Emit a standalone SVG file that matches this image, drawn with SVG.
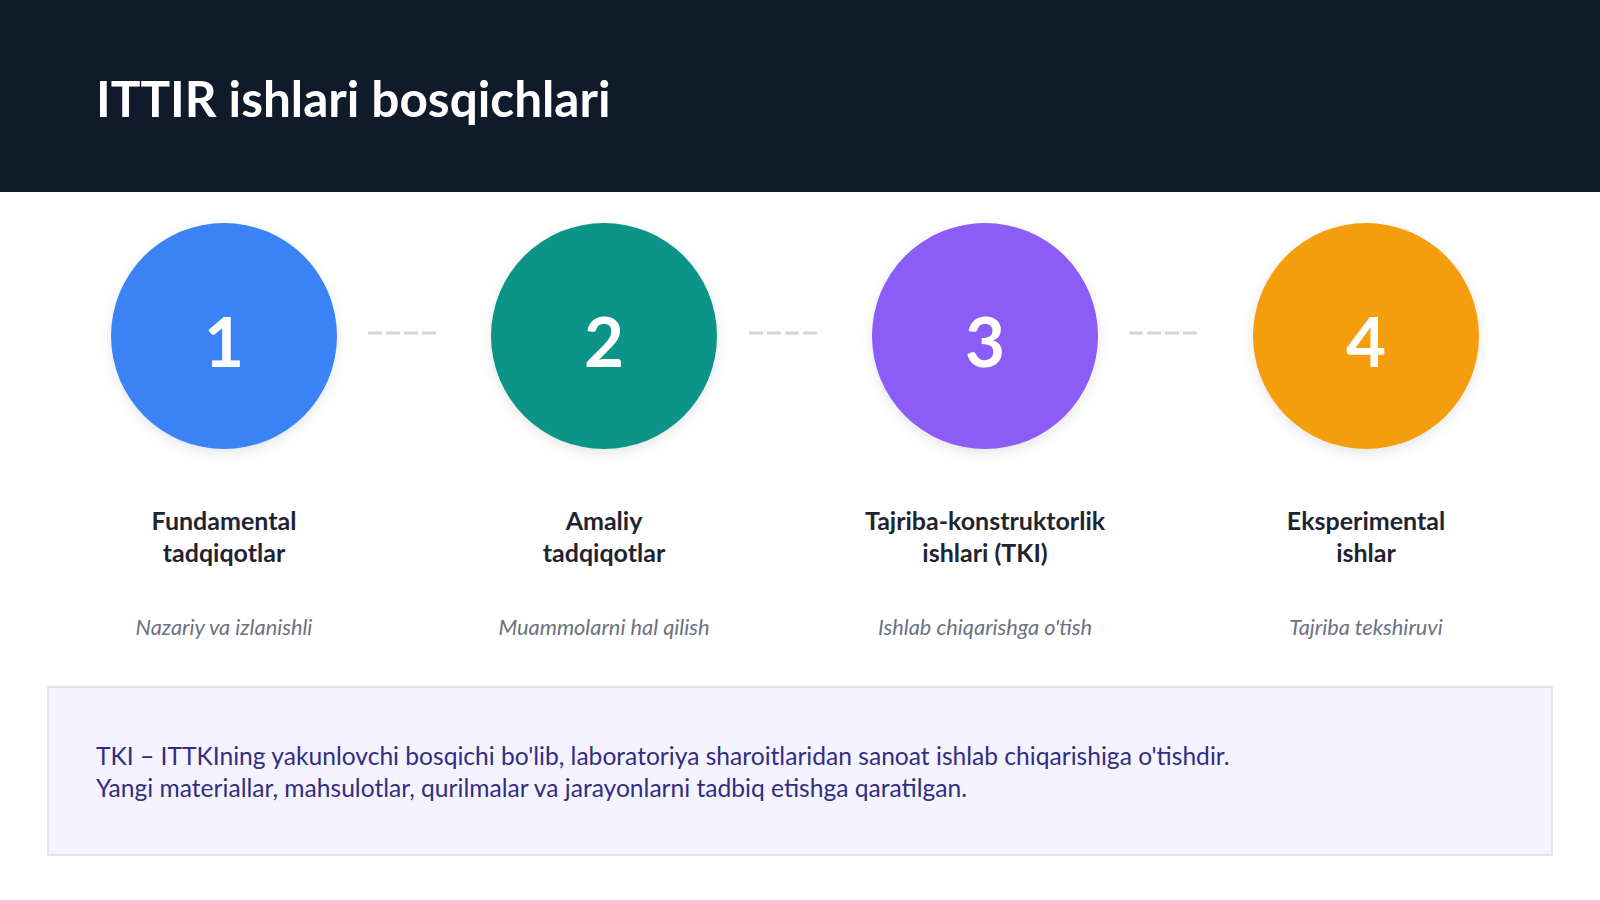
<svg xmlns="http://www.w3.org/2000/svg" width="1600" height="900" viewBox="0 0 1600 900">
  <defs>
    <filter id="sh" x="-20%" y="-20%" width="140%" height="140%">
      <feDropShadow dx="0" dy="4" stdDeviation="6" flood-color="#000" flood-opacity="0.10"/>
    </filter>
    <style>
      .title{font-family:Lato,"Liberation Sans",sans-serif;font-weight:700;font-size:49.5px;fill:#ffffff}
      .num{font-family:Lato,"Liberation Sans",sans-serif;font-weight:700;font-size:69px;fill:#ffffff;text-anchor:middle}
      .lbl{font-family:Lato,"Liberation Sans",sans-serif;font-weight:700;font-size:25px;fill:#1f2430;text-anchor:middle}
      .sub{font-family:Lato,"Liberation Sans",sans-serif;font-style:italic;font-size:21.8px;fill:#6b7280;text-anchor:middle}
      .body{font-family:Lato,"Liberation Sans",sans-serif;font-size:24.6px;fill:#312e81}
      .dash{stroke:#d1d5db;stroke-width:3;stroke-dasharray:14 4;fill:none}
    </style>
  </defs>
  <rect width="1600" height="900" fill="#ffffff"/>
  <g id="header">
    <rect x="0" y="0" width="1600" height="192" fill="#0f1a2a"/>
    <text class="title" x="96" y="117">ITTIR ishlari bosqichlari</text>
  </g>
  <g id="connectors">
    <line class="dash" x1="368" y1="333" x2="438" y2="333"/>
    <line class="dash" x1="749" y1="333" x2="819" y2="333"/>
    <line class="dash" x1="1129" y1="333" x2="1199" y2="333"/>
  </g>
  <g id="step1">
    <circle cx="224" cy="336" r="113" fill="#3b82f6" filter="url(#sh)"/>
    <text class="num" x="224" y="367">1</text>
    <text class="lbl" x="224" y="530">Fundamental</text>
    <text class="lbl" x="224" y="562">tadqiqotlar</text>
    <text class="sub" x="224" y="635">Nazariy va izlanishli</text>
  </g>
  <g id="step2">
    <circle cx="604" cy="336" r="113" fill="#0f9488" filter="url(#sh)"/>
    <text class="num" x="604" y="367">2</text>
    <text class="lbl" x="604" y="530">Amaliy</text>
    <text class="lbl" x="604" y="562">tadqiqotlar</text>
    <text class="sub" x="604" y="635">Muammolarni hal qilish</text>
  </g>
  <g id="step3">
    <circle cx="985" cy="336" r="113" fill="#8b5cf6" filter="url(#sh)"/>
    <text class="num" x="985" y="367">3</text>
    <text class="lbl" x="985" y="530">Tajriba-konstruktorlik</text>
    <text class="lbl" x="985" y="562">ishlari (TKI)</text>
    <text class="sub" x="985" y="635">Ishlab chiqarishga o'tish</text>
  </g>
  <g id="step4">
    <circle cx="1366" cy="336" r="113" fill="#f59e0b" filter="url(#sh)"/>
    <text class="num" x="1366" y="367">4</text>
    <text class="lbl" x="1366" y="530">Eksperimental</text>
    <text class="lbl" x="1366" y="562">ishlar</text>
    <text class="sub" x="1366" y="635">Tajriba tekshiruvi</text>
  </g>
  <g id="note">
    <rect x="48" y="687" width="1504" height="168" fill="#f5f3ff" stroke="#dddbe6" stroke-width="1.5"/>
    <text class="body" x="96" y="765">TKI – ITTKIning yakunlovchi bosqichi bo'lib, laboratoriya sharoitlaridan sanoat ishlab chiqarishiga o'tishdir.</text>
    <text class="body" x="96" y="797">Yangi materiallar, mahsulotlar, qurilmalar va jarayonlarni tadbiq etishga qaratilgan.</text>
  </g>
</svg>
